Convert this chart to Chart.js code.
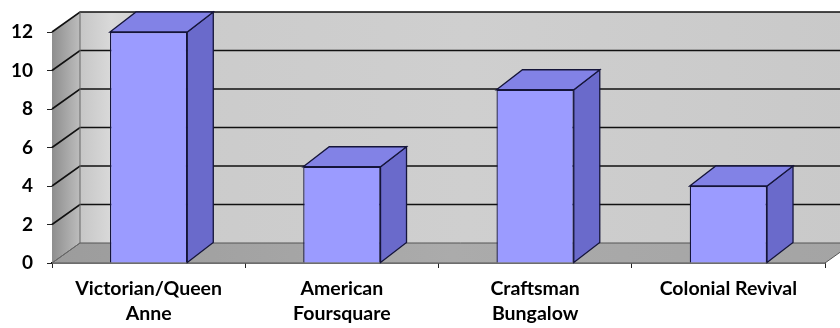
<!DOCTYPE html>
<html>
<head>
<meta charset="utf-8">
<script src="https://cdn.jsdelivr.net/npm/chart.js@4.4.0/dist/chart.umd.min.js"></script>
<style>
body { margin: 0; background: #fff; }
#wrap { width: 840px; height: 328px; position: relative; }
</style>
</head>
<body>
<div id="wrap"><canvas id="myChart"></canvas></div>
<script>
// ---------------------------------------------------------------------------data section
var house_styles = [['Victorian/Queen', 'Anne'], ['American', 'Foursquare'], ['Craftsman', 'Bungalow'], 'Colonial Revival'];
var house_counts = [12, 5, 9, 4];
var y_min = 0;
var y_max = 12;
var y_step = 2;

// depth of the back wall and of the bars (fake 3d)
var wall_dx = 28, wall_dy = -20;
var bar_dx = 26, bar_dy = -20;

// ---------------------------------------------------------------------------3d plugin
const fake3d = {
    id: 'fake3d',
    beforeDatasetsDraw(chart) {
        const c = chart.ctx;
        const a = chart.chartArea;
        const ys = chart.scales.y;
        c.save();

        // back wall
        let g = c.createLinearGradient(a.left + wall_dx, 0, a.right + wall_dx, 0);
        g.addColorStop(0, '#c6c6c6');
        g.addColorStop(0.04, '#d9d9d9');
        g.addColorStop(0.1, '#cbcbcb');
        g.addColorStop(0.5, '#cfcfcf');
        g.addColorStop(1, '#c9c9c9');
        c.fillStyle = g;
        c.fillRect(a.left + wall_dx, a.top + wall_dy, a.right - a.left, a.bottom - a.top);

        // left side wall
        g = c.createLinearGradient(a.left, 0, a.left + wall_dx, 0);
        g.addColorStop(0, '#8e8e8e');
        g.addColorStop(1, '#bdbdbd');
        c.fillStyle = g;
        c.beginPath();
        c.moveTo(a.left, a.bottom);
        c.lineTo(a.left + wall_dx, a.bottom + wall_dy);
        c.lineTo(a.left + wall_dx, a.top + wall_dy);
        c.lineTo(a.left, a.top);
        c.closePath();
        c.fill();

        // floor
        g = c.createLinearGradient(a.left, 0, a.right + wall_dx, 0);
        g.addColorStop(0, '#9c9c9c');
        g.addColorStop(0.5, '#ababab');
        g.addColorStop(1, '#a4a4a4');
        c.fillStyle = g;
        c.beginPath();
        c.moveTo(a.left, a.bottom);
        c.lineTo(a.left + wall_dx, a.bottom + wall_dy);
        c.lineTo(a.right + wall_dx, a.bottom + wall_dy);
        c.lineTo(a.right, a.bottom);
        c.closePath();
        c.fill();
        c.strokeStyle = '#555';
        c.lineWidth = 1;
        c.stroke();

        // grid lines on side wall + back wall
        c.strokeStyle = '#111';
        c.lineWidth = 1.6;
        for (let v = y_min + y_step; v <= y_max; v += y_step) {
            const py = ys.getPixelForValue(v);
            c.beginPath();
            c.moveTo(a.left, py);
            c.lineTo(a.left + wall_dx, py + wall_dy);
            c.lineTo(a.right + wall_dx, py + wall_dy);
            c.stroke();
        }
        // edges of the walls
        c.strokeStyle = '#666';
        c.lineWidth = 1;
        c.beginPath();
        c.moveTo(a.left + wall_dx, a.bottom + wall_dy);
        c.lineTo(a.left + wall_dx, a.top + wall_dy);
        c.moveTo(a.left, a.bottom);
        c.lineTo(a.left + wall_dx, a.bottom + wall_dy);
        c.stroke();
        c.restore();
    },
    afterDatasetsDraw(chart) {
        const c = chart.ctx;
        const meta = chart.getDatasetMeta(0);
        c.save();
        c.strokeStyle = '#15153a';
        c.lineWidth = 1.3;
        meta.data.forEach(function (bar) {
            const l = bar.x - bar.width / 2;
            const r = bar.x + bar.width / 2;
            const t = bar.y;
            const b = bar.base;
            // side face
            c.fillStyle = '#6a6acb';
            c.beginPath();
            c.moveTo(r, b);
            c.lineTo(r + bar_dx, b + bar_dy);
            c.lineTo(r + bar_dx, t + bar_dy);
            c.lineTo(r, t);
            c.closePath();
            c.fill();
            c.stroke();
            // top face
            c.fillStyle = '#8282e6';
            c.beginPath();
            c.moveTo(l, t);
            c.lineTo(l + bar_dx, t + bar_dy);
            c.lineTo(r + bar_dx, t + bar_dy);
            c.lineTo(r, t);
            c.closePath();
            c.fill();
            c.stroke();
        });
        c.restore();
    }
};

// ---------------------------------------------------------------------------chart
const ctx = document.getElementById('myChart').getContext('2d');
const myChart = new Chart(ctx, {
    type: 'bar',
    data: {
        labels: house_styles,
        datasets: [{
            label: 'Houses',
            data: house_counts,
            backgroundColor: '#9b9bff',
            borderColor: '#15153a',
            borderWidth: 1.3,
            categoryPercentage: 1,
            barPercentage: 0.4
        }]
    },
    options: {
        responsive: true,
        maintainAspectRatio: false,
        animation: false,
        layout: { padding: { top: 32, right: 15, left: 0, bottom: 0 } },
        plugins: {
            legend: { display: false },
            tooltip: { enabled: false }
        },
        scales: {
            x: {
                afterFit: function (s) { s.height = 65; },
                grid: { drawOnChartArea: false, tickLength: 5, color: '#222', offset: true },
                border: { color: '#111', width: 1.5 },
                ticks: {
                    color: '#000',
                    padding: 9,
                    maxRotation: 0,
                    autoSkip: false,
                    font: { family: 'Lato', weight: 'bold', size: 19.5, lineHeight: 1.25 }
                }
            },
            y: {
                min: y_min,
                max: y_max,
                afterFit: function (s) { s.width = 52; },
                grid: { drawOnChartArea: false, tickLength: 5, color: '#222' },
                border: { color: '#555', width: 1 },
                ticks: {
                    stepSize: y_step,
                    color: '#000',
                    padding: 14,
                    font: { family: 'Lato', weight: 'bold', size: 19 }
                }
            }
        }
    },
    plugins: [fake3d]
});
</script>
</body>
</html>
